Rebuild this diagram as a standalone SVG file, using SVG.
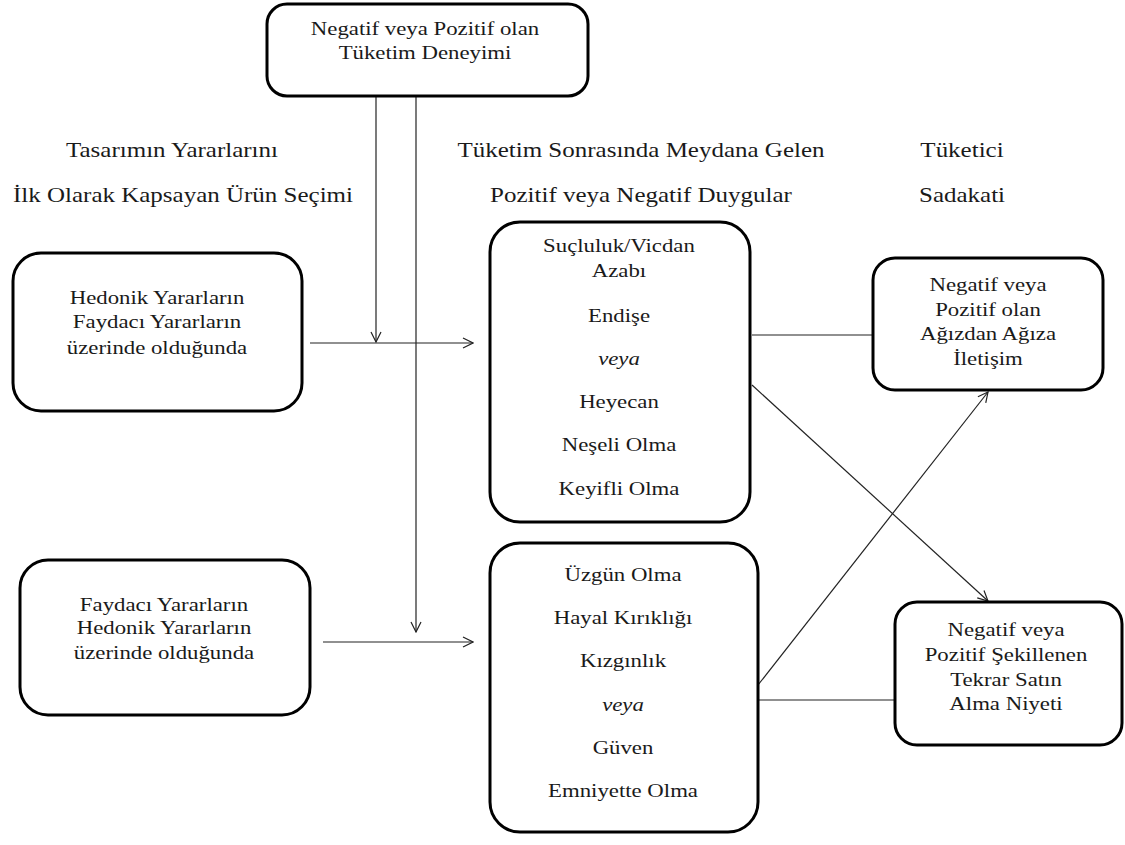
<svg xmlns="http://www.w3.org/2000/svg" width="1125" height="845" viewBox="0 0 1125 845">
<defs>
<marker id="arr" viewBox="0 0 12 12" refX="11" refY="6" markerWidth="12" markerHeight="12" markerUnits="userSpaceOnUse" orient="auto">
<path d="M1,1 L11,6 L1,11" fill="none" stroke="#222" stroke-width="1.2"/>
</marker>
<style>
.box{fill:#fff;stroke:#000;stroke-width:3}
.t{font-family:'Liberation Serif','Times New Roman',serif;font-size:19px;fill:#1a1a1a;text-anchor:middle}
.h{font-family:'Liberation Serif','Times New Roman',serif;font-size:21px;fill:#1a1a1a;text-anchor:middle}
.i{font-style:italic}
.c{fill:none;stroke:#222;stroke-width:1.2}
</style>
</defs>
<rect width="1125" height="845" fill="#fff"/>

<g id="labels" font-family="'Liberation Serif', 'Times New Roman', serif">
<text class="h" transform="translate(172 0) scale(1.19 1)" y="157">Tasarımın Yararlarını</text>
<text class="h" transform="translate(183 0) scale(1.19 1)" y="202">İlk Olarak Kapsayan Ürün Seçimi</text>
<text class="h" transform="translate(641 0) scale(1.19 1)" y="157">Tüketim Sonrasında Meydana Gelen</text>
<text class="h" transform="translate(641 0) scale(1.19 1)" y="202">Pozitif veya Negatif Duygular</text>
<text class="h" transform="translate(962 0) scale(1.19 1)" y="157">Tüketici</text>
<text class="h" transform="translate(962 0) scale(1.19 1)" y="202">Sadakati</text>
</g>

<g id="connectors">
<line class="c" x1="376" y1="96" x2="376" y2="342" marker-end="url(#arr)"/>
<line class="c" x1="416" y1="96" x2="416" y2="632" marker-end="url(#arr)"/>
<line class="c" x1="310" y1="343" x2="473" y2="343" marker-end="url(#arr)"/>
<line class="c" x1="323" y1="642" x2="473" y2="642" marker-end="url(#arr)"/>
<line class="c" x1="752" y1="335" x2="873" y2="335"/>
<line class="c" x1="752" y1="385" x2="988" y2="601" marker-end="url(#arr)"/>
<line class="c" x1="758" y1="685" x2="988" y2="392" marker-end="url(#arr)"/>
<line class="c" x1="758" y1="700" x2="895" y2="700"/>
</g>

<g id="n-top" font-family="'Liberation Serif', 'Times New Roman', serif">
<rect class="box" x="267" y="4" width="321" height="92" rx="20"/>
<g transform="translate(425 0) scale(1.2 1)">
<text class="t" y="35">Negatif veya Pozitif olan</text>
<text class="t" y="59">Tüketim Deneyimi</text>
</g>
</g>

<g id="n-hedonik" font-family="'Liberation Serif', 'Times New Roman', serif">
<rect class="box" x="13" y="253" width="289" height="158" rx="28"/>
<g transform="translate(157 0) scale(1.2 1)">
<text class="t" y="304">Hedonik Yararların</text>
<text class="t" y="328">Faydacı Yararların</text>
<text class="t" y="354">üzerinde olduğunda</text>
</g>
</g>

<g id="n-faydaci" font-family="'Liberation Serif', 'Times New Roman', serif">
<rect class="box" x="20" y="560" width="290" height="155" rx="28"/>
<g transform="translate(164 0) scale(1.2 1)">
<text class="t" y="611">Faydacı Yararların</text>
<text class="t" y="634">Hedonik Yararların</text>
<text class="t" y="659">üzerinde olduğunda</text>
</g>
</g>

<g id="n-duygu1" font-family="'Liberation Serif', 'Times New Roman', serif">
<rect class="box" x="490" y="222" width="260" height="300" rx="30"/>
<g transform="translate(619 0) scale(1.2 1)">
<text class="t" y="252">Suçluluk/Vicdan</text>
<text class="t" y="277">Azabı</text>
<text class="t" y="322">Endişe</text>
<text class="t i" y="365">veya</text>
<text class="t" y="408">Heyecan</text>
<text class="t" y="451">Neşeli Olma</text>
<text class="t" y="495">Keyifli Olma</text>
</g>
</g>

<g id="n-duygu2" font-family="'Liberation Serif', 'Times New Roman', serif">
<rect class="box" x="490" y="543" width="268" height="289" rx="30"/>
<g transform="translate(623 0) scale(1.2 1)">
<text class="t" y="581">Üzgün Olma</text>
<text class="t" y="624">Hayal Kırıklığı</text>
<text class="t" y="667">Kızgınlık</text>
<text class="t i" y="711">veya</text>
<text class="t" y="754">Güven</text>
<text class="t" y="797">Emniyette Olma</text>
</g>
</g>

<g id="n-iletisim" font-family="'Liberation Serif', 'Times New Roman', serif">
<rect class="box" x="873" y="258" width="230" height="132" rx="22"/>
<g transform="translate(988 0) scale(1.2 1)">
<text class="t" y="291">Negatif veya</text>
<text class="t" y="316">Pozitif olan</text>
<text class="t" y="340">Ağızdan Ağıza</text>
<text class="t" y="365">İletişim</text>
</g>
</g>

<g id="n-niyet" font-family="'Liberation Serif', 'Times New Roman', serif">
<rect class="box" x="895" y="602" width="227" height="143" rx="22"/>
<g transform="translate(1006 0) scale(1.2 1)">
<text class="t" y="636">Negatif veya</text>
<text class="t" y="661">Pozitif Şekillenen</text>
<text class="t" y="686">Tekrar Satın</text>
<text class="t" y="710">Alma Niyeti</text>
</g>
</g>
</svg>
